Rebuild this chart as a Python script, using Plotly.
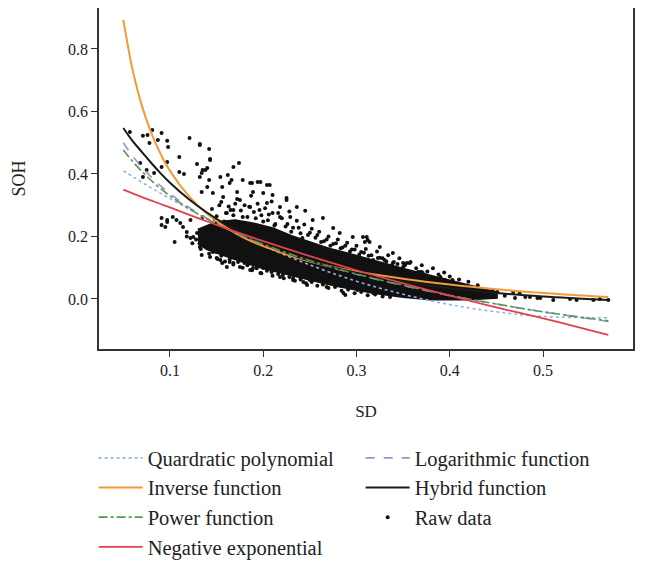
import plotly.graph_objects as go

# ---------------- data ----------------
fit_x = [0.05, 0.06, 0.07, 0.08, 0.09, 0.10, 0.12, 0.14, 0.16, 0.18, 0.20,
         0.25, 0.30, 0.35, 0.40, 0.45, 0.50, 0.57]

quadratic = [0.410, 0.392, 0.373, 0.355, 0.338, 0.321, 0.288, 0.256, 0.226, 0.197, 0.170,
             0.109, 0.057, 0.015, -0.018, -0.041, -0.056, -0.060]
logarithmic = [0.500, 0.457, 0.421, 0.390, 0.362, 0.337, 0.294, 0.258, 0.227, 0.199, 0.174,
               0.122, 0.079, 0.043, 0.011, -0.016, -0.041, -0.072]
inverse = [0.893, 0.732, 0.617, 0.531, 0.464, 0.410, 0.330, 0.272, 0.229, 0.195, 0.169,
           0.120, 0.088, 0.065, 0.046, 0.031, 0.019, 0.006]
hybrid = [0.547, 0.505, 0.470, 0.435, 0.402, 0.372, 0.320, 0.276, 0.238, 0.205, 0.177,
          0.122, 0.084, 0.055, 0.035, 0.019, 0.008, -0.003]
power = [0.477, 0.440, 0.408, 0.379, 0.353, 0.330, 0.290, 0.256, 0.226, 0.199, 0.175,
         0.123, 0.080, 0.044, 0.012, -0.016, -0.041, -0.070]
neg_exponential = [0.350, 0.338, 0.326, 0.315, 0.304, 0.293, 0.270, 0.248, 0.226, 0.205, 0.185,
                   0.137, 0.092, 0.050, 0.011, -0.027, -0.062, -0.115]

# dense core of the raw-data cloud (outline: upper edge left->right, lower edge right->left)
core_x = [0.130, 0.150, 0.170, 0.190, 0.210, 0.230, 0.250, 0.270, 0.290, 0.310, 0.330,
          0.350, 0.370, 0.390, 0.410, 0.430, 0.450,
          0.450, 0.420, 0.380, 0.350, 0.320, 0.300, 0.280, 0.260, 0.240, 0.220,
          0.200, 0.180, 0.160, 0.140, 0.130]
core_y = [0.220, 0.245, 0.250, 0.240, 0.225, 0.200, 0.180, 0.160, 0.145, 0.128, 0.112,
          0.095, 0.080, 0.065, 0.050, 0.035, 0.020,
          0.005, 0.000, 0.000, 0.008, 0.020, 0.030, 0.042, 0.056, 0.070, 0.085,
          0.100, 0.118, 0.138, 0.160, 0.180]

# individual raw-data points: sparse outliers
raw_x_sparse = [0.057, 0.071, 0.076, 0.081, 0.091, 0.078, 0.087, 0.097, 0.098, 0.121, 0.132, 0.142,
                0.110, 0.097, 0.091, 0.083, 0.075, 0.129, 0.143, 0.174, 0.168, 0.110, 0.115, 0.135,
                0.140, 0.132, 0.142, 0.154, 0.162, 0.166, 0.178, 0.188, 0.194, 0.204, 0.225, 0.068,
                0.071,
                0.132, 0.143, 0.138, 0.134, 0.156, 0.164, 0.140, 0.134, 0.146, 0.157, 0.172, 0.175,
                0.186, 0.197, 0.207, 0.189, 0.200, 0.210, 0.225, 0.236, 0.245, 0.264, 0.275, 0.218,
                0.204, 0.186, 0.168, 0.161, 0.210, 0.229, 0.253, 0.282, 0.296, 0.311, 0.314, 0.325,
                0.339, 0.354, 0.368, 0.379, 0.390, 0.403, 0.411,
                0.091, 0.095, 0.097, 0.103, 0.107, 0.111, 0.105, 0.114, 0.118, 0.122, 0.125, 0.129,
                0.132, 0.134, 0.143, 0.150, 0.140, 0.154, 0.161, 0.168, 0.175, 0.186, 0.197, 0.218,
                0.232, 0.247, 0.268, 0.286, 0.301, 0.318, 0.336,
                0.091, 0.097, 0.122, 0.150, 0.156, 0.164, 0.172, 0.180, 0.189, 0.200, 0.209, 0.221,
                0.232, 0.243, 0.250, 0.264, 0.275, 0.288, 0.311,
                0.307, 0.309, 0.312, 0.323, 0.330, 0.339, 0.350, 0.357, 0.366, 0.370, 0.390, 0.395,
                0.408, 0.418, 0.446, 0.468,
                0.371, 0.373, 0.384, 0.430, 0.440, 0.451, 0.475, 0.486, 0.494, 0.511, 0.536, 0.554,
                0.570,
                0.379, 0.406, 0.422, 0.432, 0.448, 0.459, 0.470, 0.481, 0.497, 0.529, 0.561]
raw_y_sparse = [0.534, 0.522, 0.525, 0.541, 0.531, 0.499, 0.509, 0.506, 0.486, 0.515, 0.496, 0.480,
                0.454, 0.438, 0.422, 0.403, 0.413, 0.432, 0.448, 0.435, 0.422, 0.406, 0.400, 0.413,
                0.419, 0.390, 0.381, 0.390, 0.397, 0.381, 0.381, 0.371, 0.374, 0.365, 0.323, 0.435,
                0.390,
                0.493, 0.445, 0.413, 0.403, 0.358, 0.371, 0.358, 0.342, 0.339, 0.326, 0.342, 0.317,
                0.371, 0.374, 0.365, 0.342, 0.339, 0.333, 0.317, 0.294, 0.282, 0.259, 0.227, 0.294,
                0.307, 0.294, 0.285, 0.275, 0.275, 0.262, 0.253, 0.211, 0.198, 0.198, 0.182, 0.166,
                0.147, 0.115, 0.086, 0.070, 0.070, 0.061, 0.045,
                0.259, 0.230, 0.253, 0.262, 0.253, 0.243, 0.182, 0.230, 0.214, 0.253, 0.198, 0.211,
                0.166, 0.141, 0.134, 0.150, 0.179, 0.125, 0.102, 0.115, 0.102, 0.093, 0.083, 0.070,
                0.061, 0.045, 0.038, 0.019, 0.029, 0.019, 0.006,
                0.237, 0.246, 0.195, 0.131, 0.115, 0.118, 0.134, 0.115, 0.099, 0.099, 0.086, 0.077,
                0.067, 0.054, 0.061, 0.051, 0.051, 0.013, 0.035,
                0.198, 0.182, 0.189, 0.131, 0.125, 0.115, 0.115, 0.115, 0.086, 0.086, 0.061, 0.061,
                0.045, 0.038, 0.029, 0.022,
                0.083, 0.077, 0.067, 0.035, 0.029, 0.022, 0.019, 0.006, 0.003, -0.003, -0.003, -0.003,
                -0.003,
                0.022, 0.019, 0.013, 0.010, 0.006, 0.010, 0.003, 0.006, 0.003, 0.000, 0.000]

# raw-data points: medium-density fringe above the core
raw_x_upper = [0.135, 0.145, 0.150, 0.155, 0.160, 0.163, 0.168, 0.172, 0.176, 0.180,
               0.183, 0.187, 0.190, 0.194, 0.198, 0.202, 0.205, 0.209, 0.213, 0.216,
               0.220, 0.224, 0.228, 0.232, 0.236, 0.240, 0.244, 0.248, 0.252, 0.256,
               0.260, 0.265, 0.270, 0.275, 0.280, 0.285, 0.290, 0.295, 0.300, 0.305,
               0.310, 0.316, 0.322, 0.328, 0.334, 0.340, 0.346, 0.352, 0.358, 0.364,
               0.370, 0.376, 0.382, 0.388, 0.394, 0.400, 0.410, 0.420, 0.430,
               0.148, 0.153, 0.158, 0.165, 0.170, 0.178, 0.185, 0.192, 0.196, 0.200,
               0.206, 0.212, 0.218, 0.226, 0.230, 0.238, 0.242, 0.250, 0.258, 0.262,
               0.268, 0.272, 0.278, 0.283, 0.288, 0.293, 0.298, 0.303, 0.308, 0.313,
               0.318, 0.325, 0.332, 0.338, 0.344, 0.350]
raw_y_upper = [0.262, 0.288, 0.265, 0.310, 0.275, 0.296, 0.268, 0.320, 0.283, 0.300,
               0.262, 0.330, 0.278, 0.305, 0.268, 0.290, 0.252, 0.312, 0.240, 0.275,
               0.258, 0.232, 0.280, 0.228, 0.250, 0.210, 0.238, 0.205, 0.225, 0.196,
               0.215, 0.185, 0.200, 0.176, 0.190, 0.165, 0.180, 0.158, 0.170, 0.150,
               0.160, 0.140, 0.152, 0.130, 0.140, 0.118, 0.130, 0.108, 0.118, 0.098,
               0.108, 0.088, 0.098, 0.078, 0.085, 0.072, 0.062, 0.055, 0.044,
               0.255, 0.300, 0.248, 0.285, 0.305, 0.262, 0.295, 0.258, 0.285, 0.248,
               0.270, 0.235, 0.262, 0.240, 0.215, 0.228, 0.195, 0.212, 0.205, 0.182,
               0.190, 0.170, 0.178, 0.162, 0.170, 0.152, 0.158, 0.142, 0.148, 0.138,
               0.125, 0.132, 0.120, 0.108, 0.112, 0.102]

# raw-data points: medium-density fringe below the core
raw_x_lower = [0.118, 0.124, 0.128, 0.133, 0.137, 0.142, 0.146, 0.151, 0.155, 0.159,
               0.164, 0.168, 0.173, 0.178, 0.183, 0.188, 0.193, 0.198, 0.204, 0.210,
               0.216, 0.222, 0.228, 0.234, 0.240, 0.246, 0.252, 0.258, 0.264, 0.270,
               0.277, 0.284, 0.291, 0.298, 0.305, 0.312, 0.320, 0.328]
raw_y_lower = [0.200, 0.178, 0.190, 0.160, 0.172, 0.145, 0.150, 0.128, 0.138, 0.120,
               0.126, 0.110, 0.118, 0.100, 0.108, 0.092, 0.098, 0.082, 0.090, 0.074,
               0.080, 0.066, 0.070, 0.058, 0.062, 0.050, 0.054, 0.042, 0.046, 0.035,
               0.038, 0.026, 0.030, 0.018, 0.022, 0.012, 0.014, 0.008]

x_ticks = [0.1, 0.2, 0.3, 0.4, 0.5]
y_ticks = [0.0, 0.2, 0.4, 0.6, 0.8]

raw_x = raw_x_sparse + raw_x_upper + raw_x_lower
raw_y = raw_y_sparse + raw_y_upper + raw_y_lower

# ---------------- figure ----------------
SERIF = "Liberation Serif"
fig = go.Figure()

fig.add_trace(go.Scatter(x=core_x, y=core_y, mode="lines", fill="toself",
                         fillcolor="#111111", line=dict(color="#111111", width=3),
                         showlegend=False, hoverinfo="skip"))
fig.add_trace(go.Scatter(x=raw_x, y=raw_y, mode="markers", name="Raw data",
                         marker=dict(color="#111111", size=4), legendrank=6))

lines = [
    ("Quardratic polynomial", quadratic, "#8fb3e6", "dot", 1.6, 1),
    ("Logarithmic function", logarithmic, "#a48fcf", "dash", 1.6, 2),
    ("Inverse function", inverse, "#f49a36", "solid", 2.0, 3),
    ("Hybrid function", hybrid, "#1a1a1a", "solid", 2.0, 4),
    ("Power function", power, "#4f9a50", "dashdot", 1.6, 5),
    ("Negative exponential", neg_exponential, "#e3404f", "solid", 1.8, 7),
]
for name, ys, col, dash, w, rank in lines:
    fig.add_trace(go.Scatter(x=fit_x, y=ys, mode="lines", name=name,
                             line=dict(color=col, dash=dash, width=w, shape="spline"),
                             legendrank=rank))

axis_common = dict(showgrid=False, zeroline=False, showline=True, mirror=True,
                   linecolor="#333333", linewidth=1.5, ticks="outside", ticklen=6,
                   tickcolor="#333333", tickwidth=1.2, automargin=False,
                   tickfont=dict(family=SERIF, size=16, color="#222222"))

fig.update_xaxes(range=[0.0239, 0.5965], tickvals=x_ticks,
                 ticktext=[f"{v:.1f}" for v in x_ticks],
                 title=dict(text="SD", font=dict(family=SERIF, size=17, color="#222222"),
                            standoff=27),
                 **axis_common)
fig.update_yaxes(range=[-0.16, 0.931], tickvals=y_ticks,
                 ticktext=[f"{v:.1f}" for v in y_ticks],
                 title=dict(text="SOH", font=dict(family=SERIF, size=18, color="#222222"),
                            standoff=38),
                 **axis_common)

fig.update_layout(
    width=647, height=561,
    margin=dict(l=91, r=22, t=0, b=220, autoexpand=False),
    plot_bgcolor="white", paper_bgcolor="white",
    font=dict(family=SERIF, color="#222222"),
    legend=dict(orientation="h", x=-0.01, xanchor="left", y=-0.261, yanchor="top",
                font=dict(family=SERIF, size=20.5, color="#222222"),
                entrywidth=208, entrywidthmode="pixels",
                bgcolor="rgba(0,0,0,0)", itemwidth=44),
)

fig.write_html("out.html")
